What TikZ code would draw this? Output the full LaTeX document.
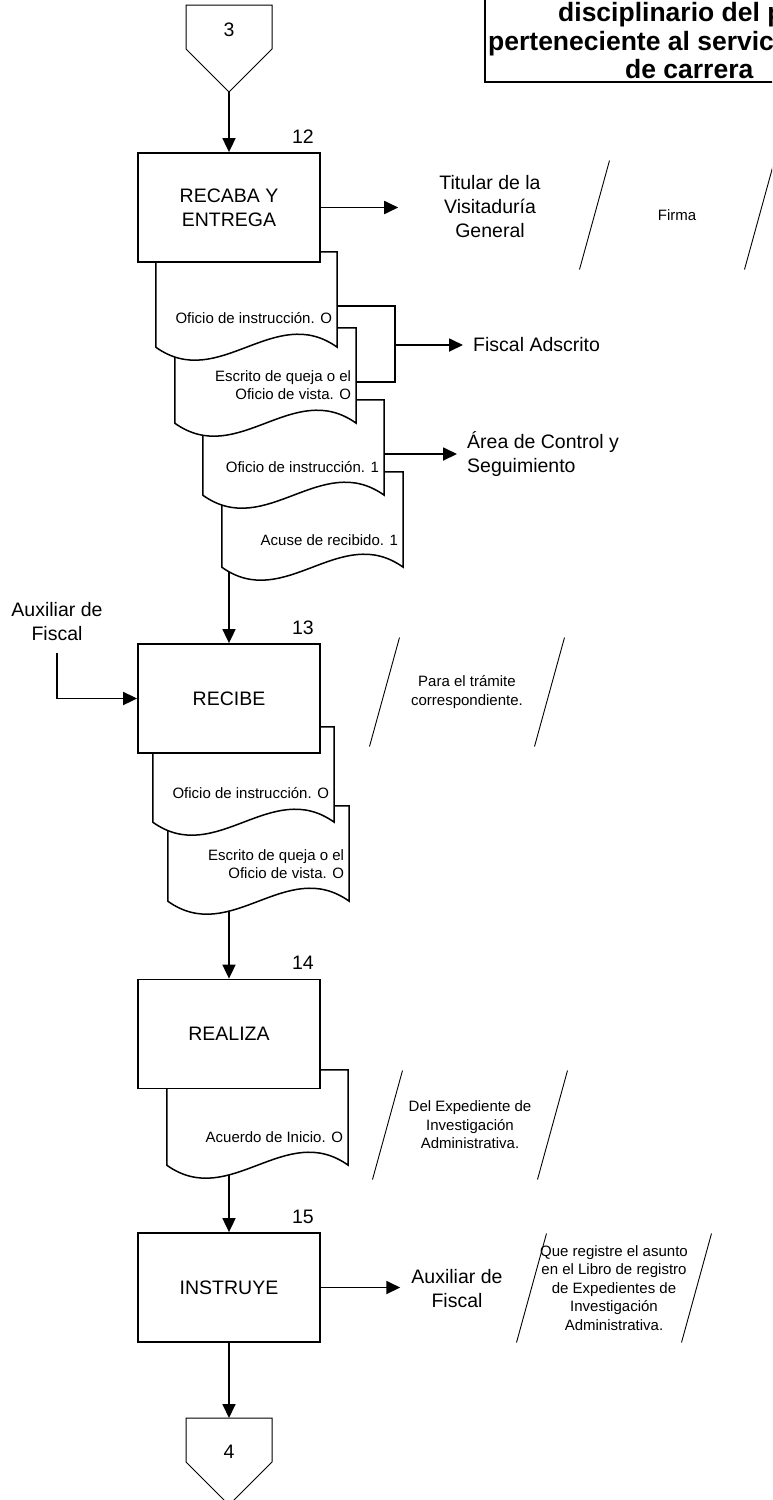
\documentclass[tikz,border=0pt]{standalone}
\usepackage{fontspec}
\setmainfont{Liberation Sans}
\usetikzlibrary{calc,arrows.meta}
\pgfdeclarelayer{fondo}
\pgfsetlayers{fondo,main}

\tikzset{
  proc/.style={draw, line width=1.8pt, fill=white, minimum width=182pt,
    minimum height=109pt, inner sep=0pt, align=center, font=\fontsize{19.5}{24}\selectfont},
  lbl/.style={inner sep=0pt, align=center, font=\fontsize{19.5}{24}\selectfont},
  small/.style={inner sep=0pt, align=center, font=\fontsize{15}{18.5}\selectfont},
  titulo/.style={inner sep=0pt, font=\fontsize{26.5}{28.5}\selectfont\bfseries},
  docbox/.style={minimum width=181pt, minimum height=95pt, inner sep=0pt},
  docline/.style={line width=1.5pt, fill=white},
  flow/.style={-{Triangle[length=14pt,width=13pt]}, line width=1.8pt},
  link/.style={line width=1.8pt},
  note/.style={line width=0.9pt},
  offpage/.style={line width=1pt, fill=white}
}

% 文档形状 (名称, 左, 上, 文字, 文字偏移)
\newcommand{\docu}[5]{%
  \node[docbox] (#1) at (#2+90.5,#3+47.5) {};
  \draw[docline] (#1.north west) -- (#1.south west)
    .. controls ($(#1.south west)+(63,45)$) and ($(#1.south east)+(-63,-45)$) .. (#1.south east)
    -- (#1.north east) -- cycle;
  \node[small, align=right, anchor=east] at ($(#1.east)+(-5,#5)$) {#4};
}

% 注释 (两条斜线)
\newcommand{\nota}[1]{%
  \draw[note] ($(#1)+(-67.5,-54.5)$) -- ($(#1)+(-97.5,54.5)$);
  \draw[note] ($(#1)+(97.5,-54.5)$) -- ($(#1)+(67.5,54.5)$);
}

\begin{document}
\begin{tikzpicture}[x=1pt, y=-1pt]
  \useasboundingbox (0,0) rectangle (772,1500);
  \clip (0,0) rectangle (772,1500);

  % 标题框
  \draw[line width=2.2pt] (485,-20) rectangle (800,82);
  \node[titulo, anchor=base west] (tit1) at (558,21.5) {disciplinario del p};
  \node[titulo, anchor=base west] (tit2) at (488,50.5) {perteneciente al servic};
  \node[titulo, anchor=base west] (tit3) at (625,78.5) {de carrera};

  % 连接符 3
  \draw[offpage] (186,5) -- (272,5) -- (272,49) -- (229,92) -- (186,49) -- cycle;
  \node[lbl] (c3) at (229,30) {3};
  \coordinate (c3tip) at (229,92);

  % 步骤 12
  \docu{d12d}{222}{472}{Acuse de recibido. 1}{20.5}
  \docu{d12c}{203}{400}{Oficio de instrucción. 1}{19.5}
  \docu{d12b}{175}{328}{Escrito de queja o el\\Oficio de vista. O}{9.5}
  \docu{d12a}{156}{252}{Oficio de instrucción. O}{18.5}
  \node[proc] (b12) at (229,207.5) {RECABA Y\\ENTREGA};
  \node[lbl, anchor=base east] (n12) at ($(b12.north east)+(-7,-9)$) {12};
  \node[lbl] (titular) at (490,207) {Titular de la\\Visitaduría\\General};
  \node[small] (firma) at (677,215) {Firma};
  \nota{firma}
  \node[lbl, anchor=west] (fiscal) at (473,345) {Fiscal Adscrito};
  \coordinate (fj) at (395,345);
  \node[lbl, anchor=west, align=left] (area) at (467,454) {Área de Control y\\Seguimiento};

  % 步骤 13
  \docu{d13b}{168}{806}{Escrito de queja o el\\Oficio de vista. O}{10.5}
  \docu{d13a}{153}{727}{Oficio de instrucción. O}{18.5}
  \node[proc] (b13) at (229,698.5) {RECIBE};
  \node[lbl, anchor=base east] (n13) at ($(b13.north east)+(-7,-9)$) {13};
  \node[lbl] (aux13) at (57,622) {Auxiliar de\\Fiscal};
  \node[small] (tramite) at (467,692) {Para el trámite\\correspondiente.};
  \nota{tramite}

  % 步骤 14
  \docu{d14}{167}{1070}{Acuerdo de Inicio. O}{19.5}
  \node[proc] (b14) at (229,1034) {REALIZA};
  \node[lbl, anchor=base east] (n14) at ($(b14.north east)+(-7,-9)$) {14};
  \node[small] (expediente) at (470,1125) {Del Expediente de\\Investigación\\Administrativa.};
  \nota{expediente}

  % 步骤 15
  \node[proc] (b15) at (229,1287.5) {INSTRUYE};
  \node[lbl, anchor=base east] (n15) at ($(b15.north east)+(-7,-9)$) {15};
  \node[lbl] (aux15) at (457,1289) {Auxiliar de\\Fiscal};
  \node[small] (registro) at (614,1288) {Que registre el asunto\\en el Libro de registro\\de Expedientes de\\Investigación\\Administrativa.};
  \nota{registro}

  % 连接符 4
  \draw[offpage] (186,1418) -- (272,1418) -- (272,1462) -- (229,1505) -- (186,1462) -- cycle;
  \node[lbl] (c4) at (229,1452) {4};
  \coordinate (c4top) at (229,1418);

  % 流程线 (底层)
  \begin{pgfonlayer}{fondo}
    \draw[flow] (c3tip) -- (b12.north);
    \draw[flow, shorten >=41pt] (b12.east) -- (b12.east -| titular.west);
    \draw[link] ($(d12a.east)+(0,6.5)$) -| (fj) |- ($(d12b.east)+(0,6.5)$);
    \draw[flow, shorten >=10pt] (fj) -- (fiscal.west);
    \draw[flow, shorten >=10pt] (d12c.east |- area.west) -- (area.west);
    \draw[flow] (d12d.center -| b13.north) -- (b13.north);
    \draw[flow, shorten <=12pt] (aux13.south) |- (b13.west);
    \draw[flow] (d13b.center -| b14.north) -- (b14.north);
    \draw[flow] (d14.center -| b15.north) -- (b15.north);
    \draw[flow, shorten >=11pt] (b15.east) -- (b15.east -| aux15.west);
    \draw[flow] (b15.south) -- (c4top);
  \end{pgfonlayer}
\end{tikzpicture}
\end{document}
